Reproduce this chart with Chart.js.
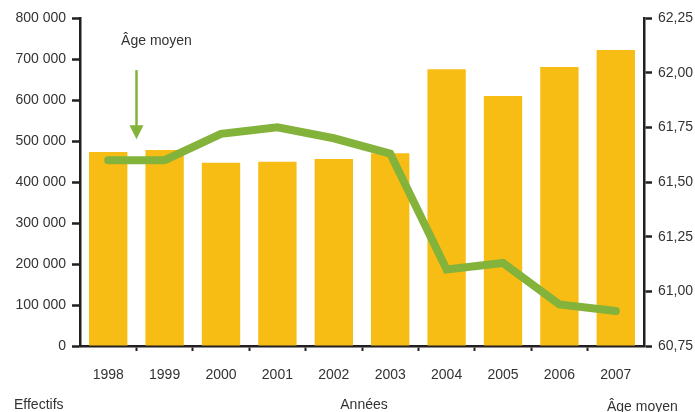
<!DOCTYPE html>
<html>
<head>
<meta charset="utf-8">
<script src="https://cdn.jsdelivr.net/npm/chart.js@4/dist/chart.umd.min.js"></script>
<style>
html,body{margin:0;padding:0;background:#fff;}
#wrap{width:695px;height:412px;position:relative;}
</style>
</head>
<body>
<div id="wrap"><canvas id="c" width="695" height="412"></canvas></div>
<script>
const years = ['1998','1999','2000','2001','2002','2003','2004','2005','2006','2007'];
const effectifs = [473000, 478000, 447000, 449500, 456000, 470000, 675000, 610000, 680500, 722000];
const ageMoyen = [61.60, 61.60, 61.72, 61.75, 61.70, 61.63, 61.10, 61.13, 60.94, 60.91];
const leftTicks = [0, 100000, 200000, 300000, 400000, 500000, 600000, 700000, 800000];
const rightTicks = [60.75, 61.00, 61.25, 61.50, 61.75, 62.00, 62.25];

const BAR = '#F7BD14';
const GREEN = '#84B33C';
const AXIS = '#231F20';
const TXT = '#333333';
const FONT = '"Liberation Sans", Arial, sans-serif';

const fmtLeft = v => v === 0 ? '0' : String(v).replace(/\B(?=(\d{3})+(?!\d))/g, ' ');
const fmtRight = v => v.toFixed(2).replace('.', ',');

const extras = {
  id: 'extras',
  afterDraw(chart) {
    const ctx = chart.ctx;
    const x = chart.scales.x, yR = chart.scales.yR;
    ctx.save();
    // annotation arrow between 1998 and 1999
    const ax = Math.round((x.getPixelForValue(0) + x.getPixelForValue(1)) / 2) + 0.5;
    const lineY = yR.getPixelForValue(ageMoyen[0]);
    const tipY = lineY - 21;
    const topY = tipY - 69;
    ctx.strokeStyle = GREEN;
    ctx.fillStyle = GREEN;
    ctx.lineWidth = 2.5;
    ctx.beginPath();
    ctx.moveTo(ax, topY);
    ctx.lineTo(ax, tipY - 12);
    ctx.stroke();
    ctx.beginPath();
    ctx.moveTo(ax - 7, tipY - 14);
    ctx.lineTo(ax + 7, tipY - 14);
    ctx.lineTo(ax, tipY);
    ctx.closePath();
    ctx.fill();
    ctx.fillStyle = TXT;
    ctx.font = '14px ' + FONT;
    ctx.textBaseline = 'middle';
    ctx.textAlign = 'center';
    ctx.fillText('Âge moyen', ax + 20, topY - 29);
    // bottom labels
    ctx.textBaseline = 'alphabetic';
    ctx.textAlign = 'left';
    ctx.fillText('Effectifs', 14, 409);
    ctx.textAlign = 'center';
    ctx.fillText('Années', (chart.chartArea.left + chart.chartArea.right) / 2 + 2, 409);
    ctx.textAlign = 'left';
    ctx.fillText('Âge moyen', 607, 411);
    ctx.restore();
  }
};

const xTickColor = c => (c.type === 'tick' && c.index > 0) ? AXIS : 'rgba(0,0,0,0)';

new Chart(document.getElementById('c'), {
  data: {
    labels: years,
    datasets: [
      {
        type: 'line',
        label: 'Âge moyen',
        data: ageMoyen,
        yAxisID: 'yR',
        borderColor: GREEN,
        borderWidth: 8,
        borderCapStyle: 'round',
        borderJoinStyle: 'miter',
        pointRadius: 0,
        tension: 0,
        fill: false,
        order: 0
      },
      {
        type: 'bar',
        label: 'Effectifs',
        data: effectifs,
        yAxisID: 'y',
        backgroundColor: BAR,
        borderWidth: 0,
        barPercentage: 0.68,
        categoryPercentage: 1.0,
        order: 1
      }
    ]
  },
  options: {
    responsive: false,
    animation: false,
    devicePixelRatio: 1,
    layout: { padding: { left: 0, right: 0, top: 18, bottom: 0 } },
    plugins: { legend: { display: false }, tooltip: { enabled: false } },
    scales: {
      x: {
        offset: true,
        grid: { offset: true, drawOnChartArea: false, drawTicks: true, tickLength: 5, tickColor: xTickColor, tickWidth: 2, color: AXIS },
        border: { display: true, color: AXIS, width: 2.5 },
        ticks: { color: TXT, font: { family: FONT, size: 14 }, padding: 16, maxRotation: 0 },
        afterFit(s) { s.height = 66; }
      },
      y: {
        position: 'left',
        min: 0, max: 800000,
        afterBuildTicks(s) { s.ticks = leftTicks.map(v => ({ value: v })); },
        grid: { drawOnChartArea: false, tickLength: 8, tickColor: AXIS, tickWidth: 2.5 },
        border: { display: true, color: AXIS, width: 2.5 },
        ticks: { color: TXT, font: { family: FONT, size: 14 }, padding: 6, callback: v => fmtLeft(v) },
        afterFit(s) { s.width = 80; }
      },
      yR: {
        position: 'right',
        min: 60.75, max: 62.25,
        afterBuildTicks(s) { s.ticks = rightTicks.map(v => ({ value: v })); },
        grid: { drawOnChartArea: false, tickLength: 8, tickColor: AXIS, tickWidth: 2.5 },
        border: { display: true, color: AXIS, width: 2.5 },
        ticks: { color: TXT, font: { family: FONT, size: 14 }, padding: 6, callback: v => fmtRight(v) },
        afterFit(s) { s.width = 51; }
      }
    }
  },
  plugins: [extras]
});
</script>
</body>
</html>
